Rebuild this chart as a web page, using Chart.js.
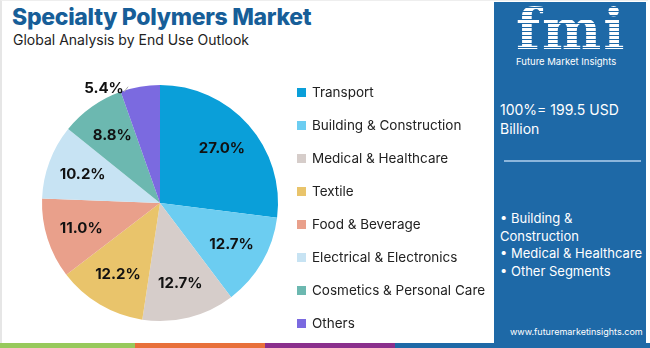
<!DOCTYPE html>
<html>
<head>
<meta charset="utf-8">
<script src="https://cdn.jsdelivr.net/npm/chart.js@4"></script>
<style>
  html, body { margin: 0; padding: 0; }
  body { width: 650px; height: 348px; position: relative; overflow: hidden; background: #fff; font-family: 'Inter', 'Open Sans', sans-serif; }
  #frame { position: absolute; left: 0; top: 0; width: 648px; height: 343px; border-left: 2px solid #e6e6e6; border-top: 1px solid #eee; box-sizing: border-box; }
  #title { position: absolute; left: 12px; top: 3px; font-size: 23px; font-weight: 800; color: #175e98; letter-spacing: -0.3px; }
  #subtitle { position: absolute; left: 13px; top: 31px; font-size: 14px; color: #222; }
  #chartBox { position: absolute; left: 0; top: 60px; width: 320px; height: 286px; }
  #legend { position: absolute; left: 297px; top: 75px; }
  .item { height: 33px; display: flex; align-items: center; font-size: 13.5px; color: #222; white-space: nowrap; }
  .sw { width: 9px; height: 9px; margin-right: 6px; margin-top: 1px; }
  #panel { position: absolute; left: 494px; top: 2px; width: 152px; height: 342px; background: #1e69a7; color: #fff; }
  #logo { position: absolute; left: 22px; top: -6px; font-family: 'DejaVu Serif', serif; font-weight: bold; font-size: 56px; letter-spacing: 2px; color: #fff;
          background: repeating-linear-gradient(#fff 0 3px, #1e69a7 3px 4px); -webkit-background-clip: text; background-clip: text; -webkit-text-fill-color: transparent; }
  #brand { position: absolute; left: 22px; top: 54px; font-size: 9.5px; }
  #total { position: absolute; left: 6px; top: 98px; font-size: 14px; line-height: 19px; }
  #rule { position: absolute; left: 10px; top: 158px; width: 137px; height: 2px; background: #8cb6dc; }
  #segs { position: absolute; left: 6px; top: 208px; font-size: 13px; line-height: 17.5px; }
  #url { position: absolute; left: 16px; top: 324px; font-size: 9px; }
  .stripe { position: absolute; top: 343px; height: 5px; }
</style>
</head>
<body>
<div id="frame"></div>
<div id="title">Specialty Polymers Market</div>
<div id="subtitle">Global Analysis by End Use Outlook</div>
<div id="chartBox"><canvas id="pieChart"></canvas></div>
<div id="legend"></div>
<div id="panel">
  <div id="logo">fmi</div>
  <div id="brand">Future Market Insights</div>
  <div id="total">100%= 199.5 USD<br>Billion</div>
  <div id="rule"></div>
  <div id="segs">• Building &amp;<br>Construction<br>• Medical &amp; Healthcare<br>• Other Segments</div>
  <div id="url">www.futuremarketinsights.com</div>
</div>
<div class="stripe" style="left:0;width:135px;background:#97c95c"></div>
<div class="stripe" style="left:135px;width:130px;background:#e8703a"></div>
<div class="stripe" style="left:265px;width:130px;background:#8a2f8c"></div>
<div class="stripe" style="left:395px;width:255px;background:#1e69a7"></div>

<script>
var segments = ['Transport', 'Building & Construction', 'Medical & Healthcare', 'Textile',
                'Food & Beverage', 'Electrical & Electronics', 'Cosmetics & Personal Care', 'Others'];
var shares = [27.0, 12.7, 12.7, 12.2, 11.0, 10.2, 8.8, 5.4];
var colors = ['#0a9fd9', '#6ccdf1', '#d6cdca', '#e9c46b', '#e9a08b', '#c7e3f3', '#6cb8b0', '#7b6ae0'];

// legend on the right of the pie
var legendBox = document.getElementById('legend');
for (let i = 0; i < segments.length; i++) {
    let row = document.createElement('div');
    row.className = 'item';
    let sw = document.createElement('span');
    sw.className = 'sw';
    sw.style.background = colors[i];
    row.appendChild(sw);
    row.appendChild(document.createTextNode(segments[i]));
    legendBox.appendChild(row);
}

/**
 * Percent labels inside the slices, small ones pulled outside with a leader line.
 */
var sliceLabels = {
    id: 'sliceLabels',
    afterDatasetsDraw: function(chart) {
        let ctx = chart.ctx;
        let meta = chart.getDatasetMeta(0);
        ctx.save();
        ctx.font = 'bold 15px Inter, "Open Sans", sans-serif';
        ctx.fillStyle = '#111';
        ctx.textAlign = 'center';
        ctx.textBaseline = 'middle';
        meta.data.forEach(function(arc, i) {
            let mid = (arc.startAngle + arc.endAngle) / 2;
            let text = shares[i].toFixed(1) + '%';
            if (shares[i] < 6) {
                let ex = arc.x + Math.cos(mid) * arc.outerRadius;
                let ey = arc.y + Math.sin(mid) * arc.outerRadius;
                let lx = arc.x - 56, ly = arc.y - 115;
                ctx.strokeStyle = '#aaa';
                ctx.lineWidth = 1;
                ctx.beginPath();
                ctx.moveTo(lx + 20, ly + 4);
                ctx.lineTo(ex - 12, ey);
                ctx.stroke();
                ctx.fillText(text, lx, ly);
            } else {
                let d = arc.outerRadius * 0.7;
                ctx.fillText(text, arc.x + Math.cos(mid) * d, arc.y + Math.sin(mid) * d);
            }
        });
        ctx.restore();
    }
};

var pie = new Chart(document.getElementById('pieChart'), {
    type: 'pie',
    data: {
        labels: segments,
        datasets: [{ data: shares, backgroundColor: colors, borderWidth: 0 }]
    },
    options: {
        responsive: true,
        maintainAspectRatio: false,
        animation: false,
        layout: { padding: 25 },
        plugins: { legend: { display: false }, tooltip: { enabled: false } }
    },
    plugins: [sliceLabels]
});
</script>
</body>
</html>
